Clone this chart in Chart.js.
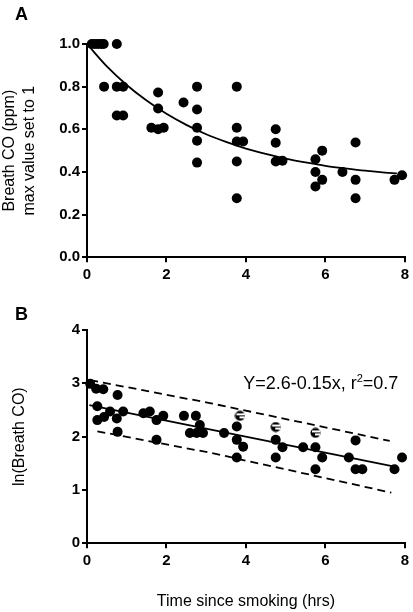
<!DOCTYPE html>
<html lang="en">
<head>
  <meta charset="UTF-8" />
  <title>Breath CO after smoking</title>
  <style>
    html, body { margin: 0; padding: 0; background: #fff; }
    .panel { position: absolute; left: 0; }
    #panelA { top: 0; }
    #panelB { top: 300px; }
  </style>
</head>
<body>

  <!-- Panel A: normalised breath CO with exponential fit -->
  <div class="panel" id="panelA"><canvas id="chartA" width="413" height="300"></canvas></div>
  <!-- Panel B: ln(breath CO) with linear fit and prediction bands -->
  <div class="panel" id="panelB"><canvas id="chartB" width="413" height="312"></canvas></div>

  <script src="https://cdn.jsdelivr.net/npm/chart.js"></script>
  <script>
    // ---- data ----
    const xTicks = [0, 2, 4, 6, 8];
    const aTicks = [0, 0.2, 0.4, 0.6, 0.8, 1.0];
    const bTicks = [0, 1, 2, 3, 4];

    // panel A: measurements (hrs, fraction of max)
    const aX = [0.12, 0.2, 0.28, 0.36, 0.42, 0.75,
                0.43, 0.75, 0.91, 0.75, 0.91,
                1.79, 1.79, 1.62, 1.79, 1.93, 2.43,
                2.77, 2.77, 2.77, 2.77, 2.77,
                3.77, 3.77, 3.77, 3.93, 3.77, 3.77,
                4.75, 4.75, 4.75, 4.92,
                5.92, 5.75, 5.75, 5.92, 5.75, 6.43,
                6.76, 6.76, 6.76, 7.74, 7.93];
    const aY = [1.0, 1.0, 1.0, 1.0, 1.0, 1.0,
                0.8, 0.8, 0.8, 0.665, 0.665,
                0.773, 0.698, 0.607, 0.6, 0.607, 0.726,
                0.8, 0.693, 0.607, 0.546, 0.444,
                0.8, 0.607, 0.543, 0.543, 0.449, 0.277,
                0.6, 0.537, 0.449, 0.453,
                0.5, 0.46, 0.4, 0.363, 0.332, 0.4,
                0.538, 0.363, 0.277, 0.363, 0.385];
    // panel A: fitted decay curve
    const aFitX = [0, 0.5, 1, 1.5, 2, 2.5, 3, 3.5, 4, 4.5, 5, 5.5, 6, 6.5, 7, 7.5, 7.8];
    const aFitY = [1.0, 0.895, 0.808, 0.735, 0.673, 0.621, 0.577, 0.541, 0.51, 0.485,
                   0.463, 0.445, 0.429, 0.417, 0.406, 0.397, 0.393];

    // panel B: ln(breath CO)
    const bX = [0.08, 0.23, 0.41, 0.77, 0.26, 0.26, 0.43, 0.58, 0.75, 0.91, 0.77,
                1.42, 1.58, 1.75, 1.92, 1.75,
                2.44, 2.74, 2.59, 2.76, 2.92, 2.84,
                3.45, 3.77, 3.77, 3.93, 3.77,
                4.75, 4.92, 4.75,
                5.44, 5.75, 5.92, 5.75,
                6.59, 6.76, 6.76, 6.93,
                7.74, 7.93];
    const bY = [2.99, 2.9, 2.89, 2.78, 2.57, 2.31, 2.37, 2.47, 2.34, 2.47, 2.09,
                2.44, 2.47, 2.31, 2.39, 1.94,
                2.39, 2.39, 2.07, 2.07, 2.07, 2.22,
                2.07, 2.19, 1.94, 1.81, 1.61,
                1.94, 1.8, 1.61,
                1.8, 1.8, 1.61, 1.39,
                1.61, 1.93, 1.39, 1.39,
                1.39, 1.61];
    // points that print only partly in the original
    const bPartX = [3.85, 4.75, 5.75];
    const bPartY = [2.39, 2.18, 2.07];
    // regression line and prediction band
    const bFitX = [0.06, 7.74];
    const bFitY = [2.59, 1.44];
    const bUpX = [0.08, 3.09, 7.62];
    const bUpY = [3.06, 2.63, 1.92];
    const bLoX = [0.26, 3.09, 7.66];
    const bLoY = [2.1, 1.70, 0.95];

    const fitText = 'Y=2.6-0.15x, r';
    const fitText2 = '=0.7';

    // ---- helpers ----
    const FONT = 'Liberation Sans, Arial, Helvetica, sans-serif';
    const pts = (xs, ys) => xs.map((x, i) => ({ x: x, y: ys[i] }));

    function axis(min, max, ticks, fmt, fitSize, horizontal, title, titlePad) {
      return {
        type: 'linear', min: min, max: max,
        afterBuildTicks: s => { s.ticks = ticks.map(v => ({ value: v })); },
        afterFit: s => { if (horizontal) s.height = fitSize; else s.width = fitSize; },
        ticks: {
          color: '#000', padding: horizontal ? 4 : 2, maxRotation: 0,
          font: { family: FONT, size: 15, weight: 'bold' },
          callback: fmt
        },
        grid: { drawOnChartArea: false, drawTicks: true, tickLength: 5, color: '#000', lineWidth: 2 },
        border: { display: true, color: '#000', width: 2 },
        title: {
          display: !!title, text: title, color: '#000',
          font: { family: FONT, size: 16, lineHeight: 1.25 },
          padding: titlePad
        }
      };
    }

    // partly printed marker
    const partMark = document.createElement('canvas');
    partMark.width = 11; partMark.height = 11;
    (function () {
      const c = partMark.getContext('2d');
      c.fillStyle = '#000';
      c.beginPath(); c.arc(5.5, 5.5, 5, 0, Math.PI * 2); c.fill();
      c.fillStyle = '#fff';
      c.fillRect(2, 3, 8, 2);
      c.fillRect(5, 6, 5, 2);
    })();

    const panelLetter = letter => ({
      id: 'letter' + letter,
      afterDraw(chart) {
        const ctx = chart.ctx;
        ctx.save();
        ctx.fillStyle = '#000';
        ctx.font = 'bold 18px ' + FONT;
        ctx.textBaseline = 'alphabetic';
        ctx.fillText(letter, 15, 20);
        ctx.restore();
      }
    });

    const fitLabel = {
      id: 'fitLabel',
      afterDraw(chart) {
        const ctx = chart.ctx;
        const x0 = chart.scales.x.getPixelForValue(3.93);
        const y0 = chart.scales.y.getPixelForValue(2.89);
        ctx.save();
        ctx.fillStyle = '#000';
        ctx.textBaseline = 'alphabetic';
        ctx.font = '18px ' + FONT;
        ctx.fillText(fitText, x0, y0);
        let x = x0 + ctx.measureText(fitText).width;
        ctx.font = '11px ' + FONT;
        ctx.fillText('2', x, y0 - 7);
        x += ctx.measureText('2').width;
        ctx.font = '18px ' + FONT;
        ctx.fillText(fitText2, x, y0);
        ctx.restore();
      }
    };

    const common = {
      responsive: false, animation: false,
      plugins: { legend: { display: false }, tooltip: { enabled: false } }
    };

    // ---- panel A ----
    new Chart(document.getElementById('chartA'), {
      type: 'scatter',
      data: {
        datasets: [
          { data: pts(aX, aY), backgroundColor: '#000', borderWidth: 0, pointRadius: 5, clip: false, order: 0 },
          { data: pts(aFitX, aFitY), showLine: true, borderColor: '#000', borderWidth: 1.8,
            pointRadius: 0, cubicInterpolationMode: 'monotone', clip: false, order: 1 }
        ]
      },
      options: Object.assign({}, common, {
        layout: { padding: { top: 44, right: 8, left: 0, bottom: 0 } },
        scales: {
          x: axis(0, 8, xTicks, v => v, 42.7, true, '', 0),
          y: axis(0, 1, aTicks, v => v.toFixed(1), 87, false,
                  ['Breath CO (ppm)', 'max value set to 1'], { top: 0, bottom: 0 })
        }
      }),
      plugins: [panelLetter('A')]
    });

    // ---- panel B ----
    new Chart(document.getElementById('chartB'), {
      type: 'scatter',
      data: {
        datasets: [
          { data: pts(bX, bY), backgroundColor: '#000', borderWidth: 0, pointRadius: 5, clip: false, order: 0 },
          { data: pts(bPartX, bPartY), pointStyle: partMark, pointRadius: 5, clip: false, order: 0 },
          { data: pts(bFitX, bFitY), showLine: true, borderColor: '#000', borderWidth: 1.8,
            pointRadius: 0, clip: false, order: 1 },
          { data: pts(bUpX, bUpY), showLine: true, borderColor: '#000', borderWidth: 1.8,
            borderDash: [8, 5], pointRadius: 0, clip: false, order: 1 },
          { data: pts(bLoX, bLoY), showLine: true, borderColor: '#000', borderWidth: 1.8,
            borderDash: [8, 5], pointRadius: 0, clip: false, order: 1 }
        ]
      },
      options: Object.assign({}, common, {
        layout: { padding: { top: 30, right: 8, left: 0, bottom: 0 } },
        scales: {
          x: axis(0, 8, xTicks, v => v, 68.7, true, 'Time since smoking (hrs)', { top: 0, bottom: 0 }),
          y: axis(0, 4, bTicks, v => v, 87, false, 'ln(Breath CO)', { top: 10, bottom: 0 })
        }
      }),
      plugins: [panelLetter('B'), fitLabel]
    });
  </script>
</body>
</html>
